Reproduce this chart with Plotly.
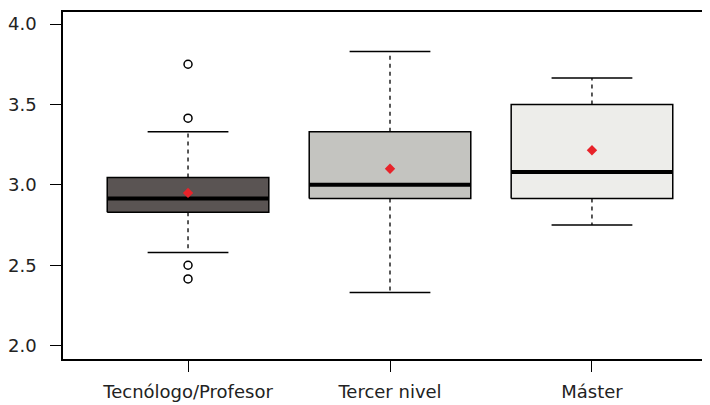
import plotly.graph_objects as go

categories = ["Tecnólogo/Profesor", "Tercer nivel", "Máster"]
q1 = [2.83, 2.915, 2.915]
median = [2.915, 3.0, 3.08]
q3 = [3.045, 3.33, 3.50]
lower_whisker = [2.58, 2.33, 2.75]
upper_whisker = [3.33, 3.83, 3.665]
means = [2.95, 3.10, 3.215]
outlier_group = [0, 0, 0, 0]
outlier_values = [3.75, 3.415, 2.50, 2.415]
box_colors = ["#5a5453", "#c4c4c0", "#ededea"]
y_ticks = [2.0, 2.5, 3.0, 3.5, 4.0]

half_w = 0.4
cap_w = 0.2
fig = go.Figure()

for i, cat in enumerate(categories):
    p = i + 1
    # whiskers (dashed)
    fig.add_trace(go.Scatter(
        x=[p, p, None, p, p],
        y=[q3[i], upper_whisker[i], None, q1[i], lower_whisker[i]],
        mode="lines", line=dict(color="black", width=1.3, dash="4px,4px"),
        hoverinfo="skip"))
    # caps
    fig.add_trace(go.Scatter(
        x=[p - cap_w, p + cap_w, None, p - cap_w, p + cap_w],
        y=[upper_whisker[i], upper_whisker[i], None, lower_whisker[i], lower_whisker[i]],
        mode="lines", line=dict(color="black", width=1.5),
        hoverinfo="skip"))
    # box
    fig.add_trace(go.Scatter(
        x=[p - half_w, p + half_w, p + half_w, p - half_w, p - half_w],
        y=[q1[i], q1[i], q3[i], q3[i], q1[i]],
        mode="lines", fill="toself", fillcolor=box_colors[i],
        line=dict(color="black", width=1.5), name=cat))
    # median
    fig.add_trace(go.Scatter(
        x=[p - half_w, p + half_w], y=[median[i], median[i]],
        mode="lines", line=dict(color="black", width=4),
        hoverinfo="skip"))

# outliers
fig.add_trace(go.Scatter(
    x=[g + 1 for g in outlier_group], y=outlier_values,
    mode="markers",
    marker=dict(symbol="circle-open", size=8, color="black", line=dict(width=1.5))))

# means
fig.add_trace(go.Scatter(
    x=[i + 1 for i in range(len(categories))], y=means,
    mode="markers",
    marker=dict(symbol="diamond", size=8, color="#e8232a")))

font = dict(family="DejaVu Sans", size=18, color="#222222")
fig.update_layout(
    template="none",
    width=710, height=405,
    margin=dict(l=55, r=0, t=4, b=54),
    plot_bgcolor="white", paper_bgcolor="white",
    showlegend=False,
    xaxis=dict(range=[0.381, 3.624], tickvals=[1, 2, 3], ticktext=categories,
               ticks="outside", ticklen=11, tickwidth=1.3, tickcolor="black",
               showline=True, mirror=True, linecolor="black", linewidth=1.5,
               showgrid=False, zeroline=False, tickfont=font,
               ticklabelstandoff=5, automargin=False),
    yaxis=dict(range=[1.917, 4.075], tickvals=y_ticks,
               ticktext=[f"{v:.1f}" for v in y_ticks],
               ticks="outside", ticklen=11, tickwidth=1.3, tickcolor="black",
               showline=True, mirror=False, linecolor="black", linewidth=1.5,
               showgrid=False, zeroline=False, tickfont=font,
               ticklabelstandoff=10, automargin=False),
)

fig.write_html("out.html")
